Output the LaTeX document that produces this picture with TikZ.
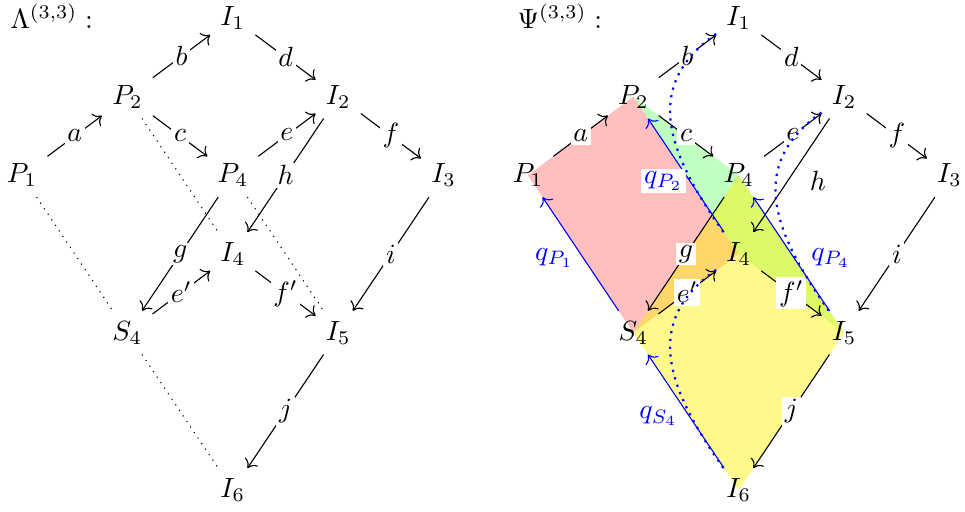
\documentclass[tikz,border=0pt]{standalone}
\usepackage{amsmath}
\usetikzlibrary{arrows.meta, backgrounds}
\tikzset{
  >={Computer Modern Rightarrow[length=2.8pt, width=5.6pt]},
  % vertices of the quiver
  vert/.style    = {inner sep=3.5pt},
  title/.style   = {anchor=west, inner sep=0pt},
  % arrows and their labels
  arr/.style     = {->},
  lbl/.style     = {fill=white, inner sep=1pt},
  dotline/.style = {dotted},
  % the q-maps
  qarr/.style    = {->, draw=blue},
  qlbl/.style    = {text=blue, inner sep=1pt},
  qpath/.style   = {blue, thick, dotted},
  % shaded regions
  regP/.style    = {fill=red, fill opacity=.25},
  regG/.style    = {fill=green, fill opacity=.25},
  regY/.style    = {fill=yellow, fill opacity=.45},
}

\begin{document}
\begin{tikzpicture}[x=1.3335cm, y=0.9953cm]
  \useasboundingbox (-0.209,0.229) rectangle (8.947,-6.279);

  % Lambda^(3,3)
  \node[title] (ltitle) at (-0.114,0.02) {$\Lambda^{(3,3)}:$};
  \foreach \nm/\x/\y/\txt in {P1/0/-2/P_1, P2/1/-1/P_2, I1/2/0/I_1, I2/3/-1/I_2,
      P4/2/-2/P_4, I3/4/-2/I_3, I4/2/-3/I_4, S4/1/-4/S_4, I5/3/-4/I_5, I6/2/-6/I_6}
    \node[vert] (l\nm) at (\x,\y) {$\txt$};
  \foreach \s/\e/\l in {P1/P2/a, P2/I1/b, I1/I2/d, P2/P4/c, P4/I2/e, I2/I3/f,
      I2/I4/h, P4/S4/g, S4/I4/e', I4/I5/f', I3/I5/i, I5/I6/j}
    \draw[arr] (l\s) -- node[lbl] {$\l$} (l\e);
  \draw[dotline] (lP1) -- (lS4);
  \draw[dotline] (lS4) -- (lI6);
  \draw[dotline] (lP2) -- (lI4);
  \draw[dotline] (lP4) -- (lI5);

  % Psi^(3,3)
  \begin{scope}[shift={(4.8,0)}]
    \node[title] (rtitle) at (-0.104,0.02) {$\Psi^{(3,3)}:$};
    \foreach \nm/\x/\y/\txt in {P1/0/-2/P_1, P2/1/-1/P_2, I1/2/0/I_1, I2/3/-1/I_2,
        P4/2/-2/P_4, I3/4/-2/I_3, I4/2/-3/I_4, S4/1/-4/S_4, I5/3/-4/I_5, I6/2/-6/I_6}
      \node[vert] (r\nm) at (\x,\y) {$\txt$};
    \begin{scope}[on background layer]
      \fill[regP] (rP1.center) -- (rP2.center) -- (rI4.center) -- (rS4.center) -- cycle;
      \fill[regG] (rP2.center) -- (rP4.center) -- (rI5.center) -- (rI4.center) -- cycle;
      \fill[regY] (rP4.center) -- (rI5.center) -- (rI6.center) -- (rS4.center) -- cycle;
    \end{scope}
    \foreach \s/\e/\l in {P1/P2/a, P2/I1/b, I1/I2/d, P2/P4/c, P4/I2/e, I2/I3/f,
        P4/S4/g, S4/I4/e', I4/I5/f', I3/I5/i, I5/I6/j}
      \draw[arr] (r\s) -- node[lbl] {$\l$} (r\e);
    \draw[arr] (rI2) -- node[xshift=9.5pt, yshift=-2pt] {$h$} (rI4);
    % q-maps
    \draw[qarr] (rS4) -- node[qlbl, xshift=-9.4pt, yshift=-1.4pt] {$q_{P_1}$} (rP1);
    \draw[qarr] (rI4) -- node[qlbl, fill=white, xshift=-8.1pt, yshift=-2pt] {$q_{P_2}$} (rP2);
    \draw[qarr] (rI5) -- node[qlbl, xshift=14.2pt, yshift=-1.4pt] {$q_{P_4}$} (rP4);
    \draw[qarr] (rI6) -- node[qlbl, xshift=-9.9pt, yshift=-1.8pt] {$q_{S_4}$} (rS4);
    \draw[qpath] (rI1) to[out=215, in=125, looseness=1.2] (rI4);
    \draw[qpath] (rI2) to[out=215, in=125, looseness=1.2] (rI5);
    \draw[qpath] (rI4) to[out=215, in=125, looseness=1.2] (rI6);
  \end{scope}
\end{tikzpicture}
\end{document}
